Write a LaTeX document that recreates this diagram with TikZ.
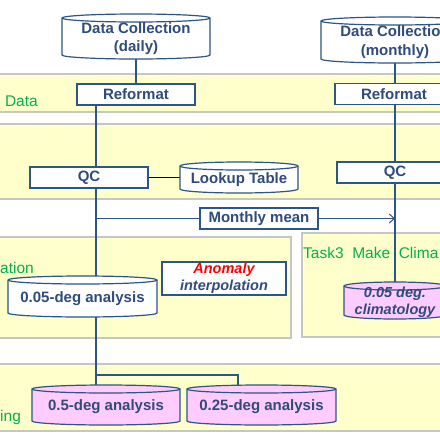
\documentclass[tikz,border=0pt]{standalone}
\usepackage{fontspec}
\setmainfont{Liberation Sans}
\usetikzlibrary{arrows.meta,calc}
\definecolor{lineblue}{HTML}{2C5685}
\definecolor{txtblue}{HTML}{2F4B7B}
\definecolor{bandyel}{HTML}{FFFFCC}
\definecolor{bandgray}{HTML}{C6C6C6}
\definecolor{pinkfill}{HTML}{FFCCFF}
\definecolor{taskgreen}{HTML}{00B050}
\pgfdeclarelayer{bg}
\pgfdeclarelayer{lines}
\pgfsetlayers{bg,lines,main}
% #1 name, #2 cx, #3 ytop, #4 ybot, #5 rx, #6 fill, #7 extra text style, #8 text
\newcommand\dbcyl[8]{%
 \filldraw[cylline,fill=#6] (#2-#5,#3+4) -- (#2-#5,#4-4)
   arc[start angle=180,end angle=360,x radius=#5pt,y radius=4pt] -- (#2+#5,#3+4)
   arc[start angle=0,end angle=180,x radius=#5pt,y radius=4pt] -- cycle;
 \draw[cylline] (#2-#5,#3+4) arc[start angle=180,end angle=360,x radius=#5pt,y radius=4pt];
 \node[inner sep=0pt,minimum width={2*#5pt},minimum height={(#4-#3)*1pt}] (#1) at (#2,{(#3+#4)/2}) {};
 \node[cyltext,#7] (#1-t) at (#2,{(#3+#4)/2+2}) {#8};}
\begin{document}
\begin{tikzpicture}[x=1pt,y=-1pt,
 band/.style={fill=bandyel,draw=bandgray,line width=1.5pt},
 boxnode/.style={draw=lineblue,fill=white,line width=1.2pt,text=txtblue,font=\bfseries\fontsize{15}{17}\selectfont,inner sep=0pt,align=center},
 cylline/.style={draw=lineblue,line width=1.2pt},
 cyltext/.style={text=txtblue,font=\bfseries\fontsize{15}{18.5}\selectfont,align=center,inner sep=0pt},
 trunkline/.style={draw=lineblue,line width=2.5pt},
 colline/.style={draw=lineblue,line width=2pt},
 thinline/.style={draw=lineblue,line width=1pt},
 tasklabel/.style={text=taskgreen,font=\fontsize{15.5}{17}\selectfont,inner sep=0pt}]
\useasboundingbox (0,0) rectangle (440,440);
\clip (0,0) rectangle (440,440);
\begin{pgfonlayer}{bg}
\fill[white] (0,0) rectangle (440,440);
\path[band] (-5,74) rectangle (445,112);
\path[band] (-5,124) rectangle (445,199);
\path[band] (-5,237) rectangle (291,338);
\path[band] (302,233) rectangle (445,337);
\path[band] (-5,364) rectangle (445,431);
\end{pgfonlayer}
% task labels
\node[tasklabel,anchor=east] (lbl1) at (38,101) {Data};
\node[tasklabel,anchor=west] (lbl2) at (0,268) {ation};
\node[tasklabel,anchor=west] (lbl3) at (0,417) {ing};
\node[tasklabel,anchor=west] (lbl4) at (303,253) {Task3\ \ Make\ \ Clima};
\coordinate (trunk) at (96,0);
\coordinate (rcol) at (395,0);
% cylinders
\dbcyl{daily}{136}{14}{59}{74}{white}{}{Data Collection\\(daily)}
\dbcyl{monthly}{395}{17}{63}{74}{white}{}{Data Collection\\(monthly)}
\dbcyl{lookup}{239}{162}{193}{59}{white}{}{Lookup Table}
\dbcyl{d05}{82.5}{276}{317}{74.5}{white}{}{0.05-deg analysis}
\dbcyl{clim}{395}{282}{319}{51}{pinkfill}{font=\bfseries\itshape\fontsize{14.5}{17}\selectfont}{0.05 deg.\\climatology}
\dbcyl{d5}{106}{385}{425}{74}{pinkfill}{}{0.5-deg analysis}
\dbcyl{d25}{261.5}{385}{425}{74.5}{pinkfill}{}{0.25-deg analysis}
% boxes
\node[boxnode,minimum width=118pt,minimum height=21pt] (ref1) at (136,94.5) {Reformat};
\node[boxnode,minimum width=118pt,minimum height=21pt] (ref2) at (394,94) {Reformat};
\node[boxnode,minimum width=118pt,minimum height=21pt] (qc1) at (89,177.5) {QC};
\node[boxnode,minimum width=116pt,minimum height=21pt] (qc2) at (395,172.5) {QC};
\node[boxnode,minimum width=118pt,minimum height=21pt] (mm) at (259,218.5) {Monthly mean};
\node[boxnode,minimum width=124pt,minimum height=33pt,font=\bfseries\itshape\fontsize{14.5}{17}\selectfont] (anom) at (224,278.5) {\textcolor{red}{Anomaly}\\interpolation};
\coordinate (br) at (96,375);
\coordinate (b25) at (238,386);
% connectors
\begin{pgfonlayer}{lines}
\draw[colline] (daily.south) -- (ref1.north);
\draw[trunkline] (ref1.south -| trunk) -- (d05.north -| trunk);
\draw[trunkline] (d05.south -| trunk) -- (d5.north -| trunk);
\draw[colline] (br) -| (b25);
\draw[black,line width=1pt] (qc1.east) -- (lookup.west);
\draw[thinline] (trunk |- mm.west) -- (mm.west);
\draw[thinline,-{Straight Barb[length=5pt,width=9pt]}] (mm.east) -- (rcol |- mm.east);
\draw[colline] (monthly.south -| rcol) -- (clim.north -| rcol);
\end{pgfonlayer}
\end{tikzpicture}
\end{document}
